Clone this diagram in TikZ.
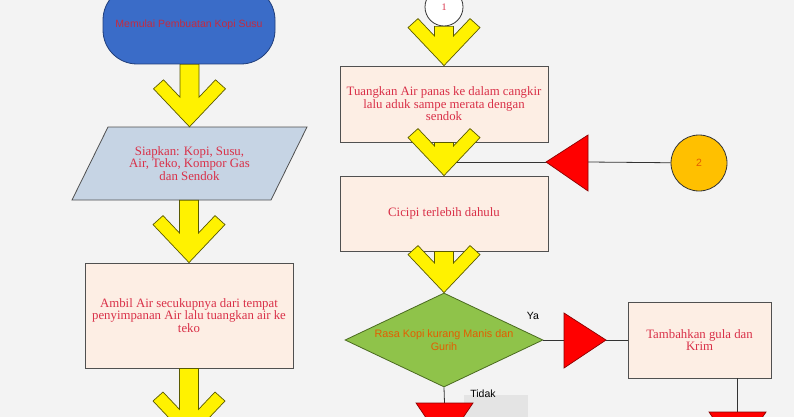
\documentclass[tikz,border=0pt]{standalone}
\usepackage{fontspec}
\setmainfont{Liberation Serif}
\newfontfamily\sansfont{Liberation Sans}
\usetikzlibrary{shapes.geometric,calc}

\definecolor{latar}{HTML}{F3F3F3}
\definecolor{krem}{HTML}{FDEEE4}
\definecolor{abugaris}{HTML}{505050}
\definecolor{biru}{HTML}{3A6CC8}
\definecolor{birutua}{HTML}{1F3D7A}
\definecolor{jajarbiru}{HTML}{C6D4E4}
\definecolor{merahteks}{HTML}{D93048}
\definecolor{merahtua}{HTML}{8B0000}
\definecolor{kuningtua}{HTML}{5A5A00}
\definecolor{hijau}{HTML}{8FC34A}
\definecolor{hijautua}{HTML}{4A6A20}
\definecolor{oranye}{HTML}{FFC000}
\definecolor{oranyetua}{HTML}{E35D00}
\definecolor{abumuda}{HTML}{E4E4E4}

\tikzset{
  kotak/.style={draw=abugaris, fill=krem, line width=0.8pt, minimum width=208pt,
    align=center, text=merahteks, font=\fontsize{12.8}{12.6}\selectfont},
  teks/.style={align=center, text=merahteks, font=\fontsize{12.8}{12.6}\selectfont},
  mulai/.style={draw=birutua, fill=biru, line width=0.8pt, rounded corners=34pt,
    minimum width=172pt, minimum height=78pt, text=merahteks!90!black,
    font=\sansfont\fontsize{10.5}{12}\selectfont},
  jajar/.style={draw=abugaris, fill=jajarbiru, line width=0.8pt},
  belah/.style={diamond, draw=hijautua, fill=hijau, line width=0.8pt, aspect=2.1,
    minimum width=198pt, minimum height=94pt, inner sep=0pt, align=center,
    text=oranyetua, font=\sansfont\fontsize{10.8}{12.8}\selectfont},
  lingkaran/.style={circle, draw=black!80, line width=0.8pt, inner sep=0pt},
  panahkuning/.style={draw=kuningtua, fill=yellow, line width=0.7pt},
  segitiga/.style={draw=merahtua, fill=red, line width=0.7pt},
  garis/.style={draw=black!80, line width=0.8pt},
  tanda/.style={font=\sansfont\fontsize{10.5}{12}\selectfont, inner sep=0pt}
}

\newcommand{\panah}[2]{%
  \draw[panahkuning] let \p1=(#1), \p2=(#2) in
  (\x2,\y2) -- (\x2-36pt,\y2+38pt) -- (\x2-26pt,\y2+47pt) --
  (\x2-9.5pt,\y2+29.6pt) -- (\x2-9.5pt,\y1) -- (\x2+9.5pt,\y1) --
  (\x2+9.5pt,\y2+29.6pt) -- (\x2+26pt,\y2+47pt) -- (\x2+36pt,\y2+38pt) -- cycle;}

\begin{document}
\begin{tikzpicture}[x=1pt,y=-1pt]
  \useasboundingbox (0,0) rectangle (794,417);
  \clip (0,0) rectangle (794,417);
  \fill[latar] (0,0) rectangle (794,417);

  \node[mulai] (mulai) at (189,25) {Memulai Pembuatan Kopi Susu};
  \draw[jajar] (72,200) -- (108,127) -- (307,127) -- (271,200) -- cycle;
  \node[teks, minimum width=199pt, minimum height=73pt, inner sep=0pt] (siap)
    at (189.5,163.5) {Siapkan: Kopi, Susu,\\Air, Teko, Kompor Gas\\dan Sendok};
  \node[kotak, minimum height=105pt] (ambil) at (189,315.5)
    {Ambil Air secukupnya dari tempat\\penyimpanan Air lalu tuangkan air ke\\teko};
  \coordinate (bawahkiri) at (189,439);

  \node[lingkaran, minimum size=38pt, fill=white, text=merahteks,
    font=\fontsize{10}{12}\selectfont] (satu) at (444,7) {1};
  \node[kotak, minimum height=76pt] (tuang) at (444,104)
    {Tuangkan Air panas ke dalam cangkir\\lalu aduk sampe merata dengan\\sendok};
  \node[kotak, minimum height=75pt] (cicipi) at (444,213.5) {Cicipi terlebih dahulu};
  \node[belah] (rasa) at (444,340) {Rasa Kopi kurang Manis dan\\Gurih};
  \node[kotak, minimum width=143pt, minimum height=76pt] (tambah) at (699.5,340)
    {Tambahkan gula dan\\Krim};
  \node[lingkaran, minimum size=56pt, fill=oranye, text=oranyetua,
    font=\sansfont\fontsize{10.5}{12}\selectfont] (dua) at (699,163) {2};

  \coordinate (ujungdua) at (546,162);
  \coordinate (alasdua) at (588,162);
  \draw[garis] (dua) -- (alasdua);
  \draw[garis] (ujungdua) -- (ujungdua -| cicipi);
  \draw[segitiga] (ujungdua) -- (588,135) -- (588,191) -- cycle;

  \coordinate (alasya) at (564,340);
  \coordinate (ujungya) at (606,340);
  \draw[garis] (rasa.east) -- (alasya);
  \draw[garis] (ujungya) -- (tambah.west);
  \draw[segitiga] (564,313) -- (ujungya) -- (564,368) -- cycle;
  \node[tanda] at (533,316) {Ya};

  \fill[abumuda] (464,395) rectangle (528,417);
  \coordinate (atastidak) at (444.5,403);
  \draw[garis] (rasa.south) -- (atastidak);
  \draw[segitiga] (416,403) -- (473,403) -- (444.5,445) -- cycle;
  \node[tanda] at (483,394) {Tidak};
  \coordinate (ataskanan) at (737.5,412);
  \draw[garis] (ataskanan |- tambah.south) -- (ataskanan);
  \draw[segitiga] (709,412) -- (766,412) -- (737.5,454) -- cycle;

  \panah{mulai.south}{siap.north}
  \panah{siap.south}{ambil.north}
  \panah{ambil.south}{bawahkiri}
  \panah{satu.south}{tuang.north}
  \panah{tuang.south}{cicipi.north}
  \panah{cicipi.south}{rasa.north}
\end{tikzpicture}
\end{document}
